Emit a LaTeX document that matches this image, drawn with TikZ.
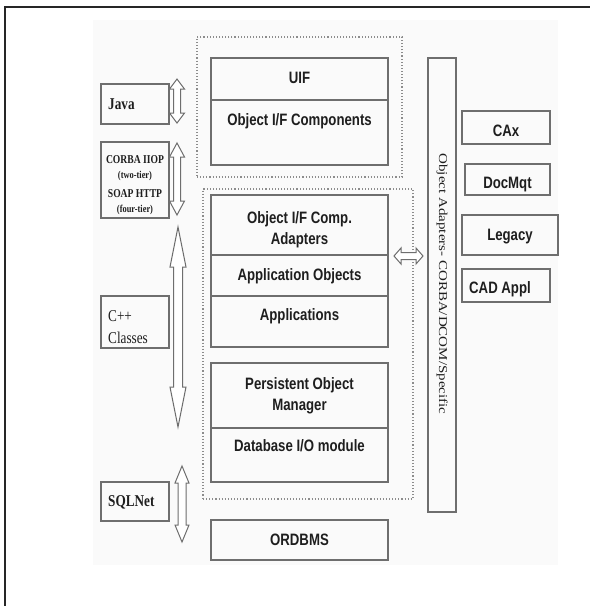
\documentclass[tikz,border=0pt]{standalone}
\usepackage{fontspec}
\usepackage{graphicx}
\newfontfamily\sansn{Liberation Sans}[FakeStretch=0.8]
\newfontfamily\serifn{Liberation Serif}[FakeStretch=0.8]
\newfontfamily\serifr{Liberation Serif}
\definecolor{boxc}{HTML}{6E6E6E}
\definecolor{txtc}{HTML}{1E1E1E}
\definecolor{bgc}{HTML}{FAFAFA}
\definecolor{dotc}{HTML}{8C8C8C}
\tikzset{
  pbox/.style={draw=boxc, line width=1.3pt, inner sep=0pt, rectangle},
  dotbox/.style={draw=dotc, line width=1.1pt, dotted, inner sep=0pt, rectangle},
  stxt/.style={text=txtc, font=\sansn\bfseries\fontsize{16.5}{21}\selectfont, inner sep=0pt, anchor=base},
  ltxt/.style={text=txtc, font=\serifn\bfseries\fontsize{16.5}{21}\selectfont, inner sep=0pt, anchor=base west},
  dblarr/.style={draw=boxc, fill=white, line width=1pt, line join=miter},
}
% box: name, x1, y1, x2, y2, style
\newcommand\mybox[6]{\node[#6, minimum width={(#4)-(#2)}, minimum height={(#5)-(#3)}] (#1) at ({((#2)+(#4))/2},{((#3)+(#5))/2}) {};}
% vertical double arrow: x, ytop, ybot, head length, half head, half shaft
\newcommand\vdarr[6]{\draw[dblarr] (#1,#2) -- ({#1+#5},{#2+#4}) -- ({#1+#6},{#2+#4}) -- ({#1+#6},{#3-#4}) -- ({#1+#5},{#3-#4}) -- (#1,#3) -- ({#1-#5},{#3-#4}) -- ({#1-#6},{#3-#4}) -- ({#1-#6},{#2+#4}) -- ({#1-#5},{#2+#4}) -- cycle;}
% horizontal double arrow: y, xleft, xright, head length, half head, half shaft
\newcommand\hdarr[6]{\draw[dblarr] (#2,#1) -- ({#2+#4},{#1-#5}) -- ({#2+#4},{#1-#6}) -- ({#3-#4},{#1-#6}) -- ({#3-#4},{#1-#5}) -- (#3,#1) -- ({#3-#4},{#1+#5}) -- ({#3-#4},{#1+#6}) -- ({#2+#4},{#1+#6}) -- ({#2+#4},{#1+#5}) -- cycle;}
\begin{document}
\begin{tikzpicture}[x=1pt, y=-1pt]
\useasboundingbox (0,0) rectangle (590,606);
\fill[bgc] (93,20) rectangle (558,565);
\draw[line width=2pt, black!85] (5,606) -- (5,7) -- (590,7);

% dotted groups
\mybox{grpA}{197}{37}{402}{177}{dotbox}
\mybox{grpB}{203}{189}{413}{499}{dotbox}

% central stack
\mybox{uif}{211}{58}{388}{100}{pbox}
\mybox{oifc}{211}{100}{388}{165}{pbox}
\mybox{adap}{211}{195}{388}{255}{pbox}
\mybox{appobj}{211}{255}{388}{296}{pbox}
\mybox{apps}{211}{296}{388}{347}{pbox}
\mybox{pom}{211}{363}{388}{428}{pbox}
\mybox{dbio}{211}{428}{388}{482}{pbox}
\mybox{ordbms}{211}{520}{388}{560}{pbox}

\node[stxt] (tuif) at (299.5,83) {UIF};
\node[stxt] (toifc) at (299.5,125) {Object I/F Components};
\node[stxt] (tadap1) at (299.5,223) {Object I/F Comp.};
\node[stxt] (tadap2) at (299.5,244) {Adapters};
\node[stxt] (tappobj) at (299.5,280) {Application Objects};
\node[stxt] (tapps) at (299.5,320) {Applications};
\node[stxt] (tpom1) at (299.5,389) {Persistent Object};
\node[stxt] (tpom2) at (299.5,410) {Manager};
\node[stxt] (tdbio) at (299.5,451) {Database I/O module};
\node[stxt] (tord) at (299.5,545) {ORDBMS};

% vertical adapter bar
\mybox{bar}{428}{58}{456}{512}{pbox}
\node[text=txtc, inner sep=0pt, rotate=-90] (tbar) at (442,284)
  {\scalebox{1}[0.8]{\serifr\fontsize{15}{18}\selectfont Object Adapters- CORBA/DCOM/Specific}};

% right boxes
\mybox{cax}{462}{111}{550}{144}{pbox}
\mybox{doc}{465}{164}{550}{195}{pbox}
\mybox{leg}{462}{215}{558}{255}{pbox}
\mybox{cad}{462}{269}{550}{302}{pbox}
\node[stxt] (tcax) at (506,136) {CAx};
\node[stxt] (tdoc) at (507.5,188) {DocMqt};
\node[stxt] (tleg) at (510,240) {Legacy};
\node[stxt, anchor=base west] (tcad) at (469,293) {CAD Appl};

% left boxes
\mybox{java}{101}{84}{169}{124}{pbox}
\mybox{corba}{101}{142}{169}{218}{pbox}
\mybox{cpp}{101}{296}{169}{348}{pbox}
\mybox{sql}{101}{482}{169}{521}{pbox}
\node[ltxt] (tjava) at (108,109) {Java};
\node[ltxt] (tsql) at (108,506) {SQLNet};
\node[ltxt, font=\serifn\fontsize{16.5}{21}\selectfont] (tcpp1) at (108,321) {C++};
\node[ltxt, font=\serifn\fontsize{16.5}{21}\selectfont] (tcpp2) at (108,343) {Classes};
\node[ltxt, anchor=base, font=\serifn\bfseries\fontsize{12}{14}\selectfont] (tc1) at (135,163) {CORBA IIOP};
\node[ltxt, anchor=base, font=\serifn\bfseries\fontsize{10.5}{12}\selectfont] (tc2) at (135,178) {(two-tier)};
\node[ltxt, anchor=base, font=\serifn\bfseries\fontsize{12}{14}\selectfont] (tc3) at (135,197) {SOAP HTTP};
\node[ltxt, anchor=base, font=\serifn\bfseries\fontsize{10.5}{12}\selectfont] (tc4) at (135,212) {(four-tier)};

% double arrows
\vdarr{177}{79}{123}{10}{7.5}{3.5}
\vdarr{177}{143}{215}{14}{7.5}{3.5}
\vdarr{178}{227}{427}{40}{8}{4.5}
\vdarr{182}{466}{542}{17}{7}{4}
\hdarr{256}{394}{423}{7}{8}{3.5}
\end{tikzpicture}
\end{document}
